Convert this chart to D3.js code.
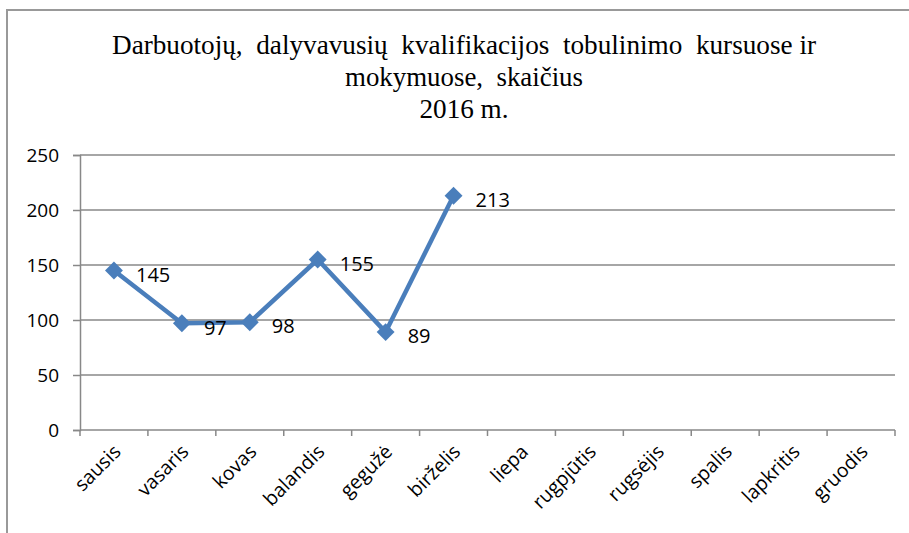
<!DOCTYPE html>
<html>
<head>
<meta charset="utf-8">
<script src="https://cdn.jsdelivr.net/npm/d3@7"></script>
<style>
  body { margin: 0; background: #fff; }
  svg { display: block; }
</style>
</head>
<body>
<svg id="chart" width="909" height="533"></svg>
<script>
const months = ['sausis', 'vasaris', 'kovas', 'balandis', 'gegužė', 'birželis',
    'liepa', 'rugpjūtis', 'rugsėjis', 'spalis', 'lapkritis', 'gruodis'];
const values = [145, 97, 98, 155, 89, 213];
const yTicks = [0, 50, 100, 150, 200, 250];
const titleLines = [
    'Darbuotojų,  dalyvavusių  kvalifikacijos  tobulinimo  kursuose ir',
    'mokymuose,  skaičius',
    '2016 m.'
];

const svg = d3.select('#chart');
const gridColor = '#888';
const lineColor = '#4a7ebb';

// chart frame (only left and top edges are visible)
svg.append('rect')
    .attr('x', 7)
    .attr('y', 10)
    .attr('width', 940)
    .attr('height', 560)
    .attr('fill', 'none')
    .attr('stroke', '#999')
    .attr('stroke-width', 2);

// title
const titleWidths = [704, 238, 89];
const titleY = [54, 86, 118];
svg.append('g')
    .selectAll('text')
    .data(titleLines)
    .join('text')
    .attr('x', 464)
    .attr('y', (d, i) => titleY[i])
    .attr('text-anchor', 'middle')
    .attr('textLength', (d, i) => titleWidths[i])
    .attr('lengthAdjust', 'spacingAndGlyphs')
    .style('white-space', 'pre')
    .style('font-family', '"Liberation Serif", "Times New Roman", serif')
    .style('font-size', '28px')
    .style('fill', '#000')
    .text(d => d);

const plotLeft = 80, plotRight = 895, plotTop = 155, plotBottom = 430;

const x = d3.scaleBand()
    .domain(months)
    .range([plotLeft, plotRight]);

const y = d3.scaleLinear()
    .domain([0, 250])
    .range([plotBottom, plotTop]);

// horizontal gridlines
svg.append('g')
    .selectAll('line')
    .data(yTicks.filter(d => d > 0))
    .join('line')
    .attr('x1', plotLeft)
    .attr('x2', plotRight)
    .attr('y1', d => y(d))
    .attr('y2', d => y(d))
    .attr('stroke', gridColor)
    .attr('stroke-width', 1.5);

// y axis
const yAxis = svg.append('g')
    .attr('transform', `translate(${plotLeft},0)`)
    .call(d3.axisLeft(y).tickValues(yTicks).tickSize(7).tickPadding(14));
yAxis.select('.domain').attr('stroke', gridColor).attr('stroke-width', 1.5);
yAxis.selectAll('.tick line').attr('stroke', gridColor).attr('stroke-width', 1.5);
yAxis.selectAll('.tick text')
    .style('font-family', '"Open Sans", sans-serif')
    .style('font-size', '19px')
    .style('fill', '#000');

// x axis with ticks at category boundaries
svg.append('line')
    .attr('x1', plotLeft)
    .attr('x2', plotRight)
    .attr('y1', plotBottom)
    .attr('y2', plotBottom)
    .attr('stroke', gridColor)
    .attr('stroke-width', 1.5);

const boundaries = months.map(m => x(m)).concat([plotRight]);
svg.append('g')
    .selectAll('line')
    .data(boundaries)
    .join('line')
    .attr('x1', d => d)
    .attr('x2', d => d)
    .attr('y1', plotBottom)
    .attr('y2', plotBottom + 6)
    .attr('stroke', gridColor)
    .attr('stroke-width', 1.5);

svg.append('g')
    .selectAll('text')
    .data(months)
    .join('text')
    .attr('transform', d => `translate(${x(d) + x.bandwidth() / 2 + 8},${plotBottom + 23}) rotate(-45)`)
    .attr('text-anchor', 'end')
    .style('font-family', '"Open Sans", sans-serif')
    .style('font-size', '19.5px')
    .style('fill', '#000')
    .text(d => d);

// series
const pts = values.map((v, i) => ({ m: months[i], v }));
const cx = d => x(d.m) + x.bandwidth() / 2;

svg.append('path')
    .datum(pts)
    .attr('fill', 'none')
    .attr('stroke', lineColor)
    .attr('stroke-width', 4.5)
    .attr('stroke-linejoin', 'round')
    .attr('d', d3.line().x(cx).y(d => y(d.v)));

svg.append('g')
    .selectAll('path')
    .data(pts)
    .join('path')
    .attr('transform', d => `translate(${cx(d)},${y(d.v)}) rotate(45)`)
    .attr('d', d3.symbol().type(d3.symbolSquare).size(160))
    .attr('fill', lineColor);

// data labels
svg.append('g')
    .selectAll('text')
    .data(pts)
    .join('text')
    .attr('x', d => cx(d) + 22)
    .attr('y', d => y(d.v) + 4)
    .attr('dy', '0.36em')
    .style('font-family', '"Open Sans", sans-serif')
    .style('font-size', '20px')
    .style('fill', '#000')
    .text(d => d.v);
</script>
</body>
</html>
